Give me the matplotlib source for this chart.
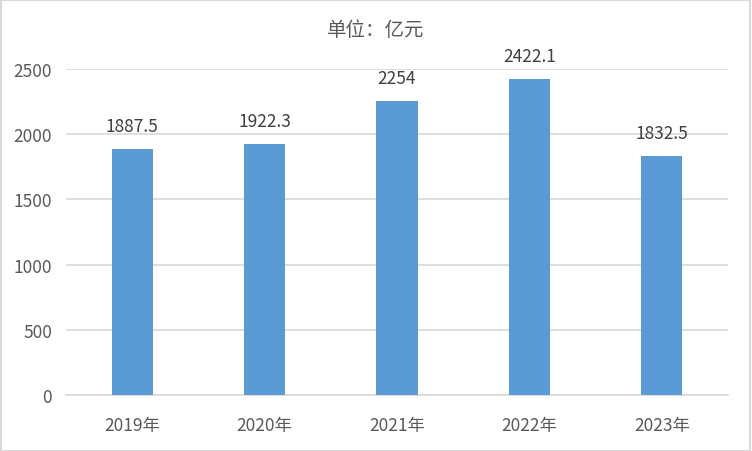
import matplotlib
matplotlib.use("Agg")
import matplotlib.pyplot as plt
from matplotlib.patches import Rectangle

plt.rcParams['font.family'] = ['Noto Sans CJK SC', 'DejaVu Sans']

# data
years = ["2019年", "2020年", "2021年", "2022年", "2023年"]
values = [1887.5, 1922.3, 2254, 2422.1, 1832.5]
value_labels = ["1887.5", "1922.3", "2254", "2422.1", "1832.5"]
y_ticks = [0, 500, 1000, 1500, 2000, 2500]

fig = plt.figure(figsize=(7.52, 4.52), dpi=100)
ax = fig.add_axes([0.0878, 0.1239, 0.8803, 0.7212])

x = range(len(years))
bars = ax.bar(x, values, width=0.31, color="#5B9BD5", zorder=3)

for b, lab in zip(bars, value_labels):
    ax.text(b.get_x() + b.get_width() / 2, b.get_height() + 110, lab,
            ha="center", va="bottom", fontsize=12.5, color="#404040")

ax.set_xlim(-0.5, len(years) - 0.5)
ax.set_ylim(0, 2500)
ax.set_yticks(y_ticks)
ax.set_xticks(list(x))
ax.set_xticklabels(years)
ax.yaxis.grid(True, color="#D9D9D9", linewidth=1.2, zorder=0)
ax.tick_params(axis="both", length=0, labelsize=12.5, colors="#595959")
ax.tick_params(axis="x", pad=15)
ax.tick_params(axis="y", pad=10)
for s in ["top", "right", "left"]:
    ax.spines[s].set_visible(False)
ax.spines["bottom"].set_color("#D9D9D9")
ax.spines["bottom"].set_linewidth(1.2)

fig.text(0.5, 0.933, "单位：亿元", ha="center", va="center", fontsize=14, color="#595959")

# light border around the whole picture
fig.patches.append(Rectangle((0.001, 0.001), 0.997, 0.997, transform=fig.transFigure,
                             fill=False, edgecolor="#D9D9D9", linewidth=1.5))

fig.savefig("out.png", dpi=100)
